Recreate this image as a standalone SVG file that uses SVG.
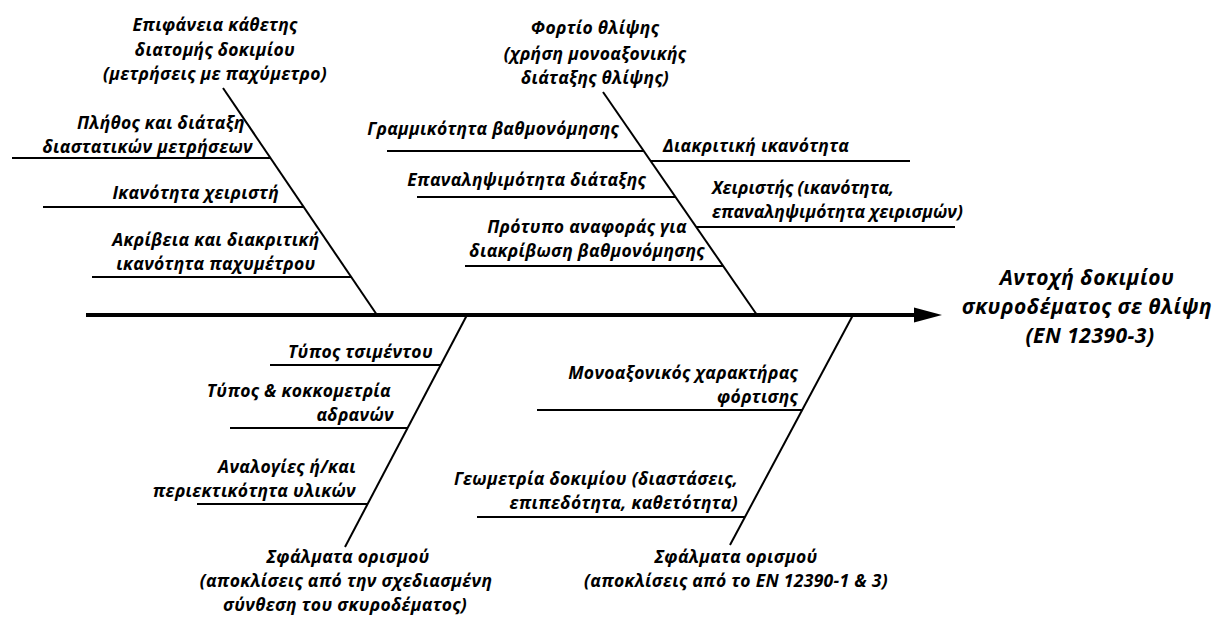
<svg xmlns="http://www.w3.org/2000/svg" width="1228" height="617" viewBox="0 0 1228 617">
<style>
text{font-family:"Open Sans","Noto Sans","DejaVu Sans",sans-serif;font-weight:bold;font-style:italic;font-size:17.5px;letter-spacing:0.3px;fill:#000}
.t{font-size:21px;letter-spacing:0.5px}
.m{text-anchor:middle}
.e{text-anchor:end}
.n{letter-spacing:0}
.bone{stroke:#000;stroke-width:2;fill:none}
.sub{stroke:#000;stroke-width:1.8;fill:none}
.spine{stroke:#000;stroke-width:4;fill:none}
</style>
<rect width="1228" height="617" fill="#fff"/>
<g id="connectors">
<line class="spine" x1="86" y1="315" x2="918" y2="315"/>
<polygon points="914,307.5 942,315 914,322.5" fill="#000"/>
<line class="bone" x1="223" y1="88" x2="377" y2="315"/>
<line class="bone" x1="603" y1="92" x2="757" y2="315"/>
<line class="bone" x1="467" y1="315" x2="345" y2="547"/>
<line class="bone" x1="853" y1="315" x2="730" y2="545"/>
<line class="sub" x1="12" y1="158" x2="270" y2="158"/>
<line class="sub" x1="43" y1="207" x2="304" y2="207"/>
<line class="sub" x1="92" y1="277" x2="351" y2="277"/>
<line class="sub" x1="387" y1="151" x2="644" y2="151"/>
<line class="sub" x1="417" y1="197" x2="675" y2="197"/>
<line class="sub" x1="465" y1="266" x2="723" y2="266"/>
<line class="sub" x1="651" y1="161" x2="910" y2="161"/>
<line class="sub" x1="696" y1="227" x2="955" y2="227"/>
<line class="sub" x1="270" y1="365" x2="441" y2="365"/>
<line class="sub" x1="230" y1="428" x2="408" y2="428"/>
<line class="sub" x1="197" y1="504" x2="368" y2="504"/>
<line class="sub" x1="537" y1="410" x2="802" y2="410"/>
<line class="sub" x1="477" y1="517" x2="745" y2="517"/>
</g>
<g id="effect">
<text class="t m" x="1087" y="285">Αντοχή δοκιμίου</text>
<text class="t m" x="1087" y="314">σκυροδέματος σε θλίψη</text>
<text class="t m" x="1090" y="343">(EN 12390-3)</text>
</g>
<g id="cat-surface">
<text class="m" x="215" y="31">Επιφάνεια κάθετης</text>
<text class="m" x="215" y="56">διατομής δοκιμίου</text>
<text class="m" x="215" y="80">(μετρήσεις με παχύμετρο)</text>
</g>
<g id="cause-plithos">
<text class="e" x="245" y="129">Πλήθος και διάταξη</text>
<text class="e" x="253" y="153">διαστατικών μετρήσεων</text>
</g>
<g id="cause-ikanotita">
<text class="e" x="279" y="199">Ικανότητα χειριστή</text>
</g>
<g id="cause-akriveia">
<text class="m" x="216" y="246">Ακρίβεια και διακριτική</text>
<text class="m" x="216" y="270">ικανότητα παχυμέτρου</text>
</g>
<g id="cat-load">
<text class="m" x="595" y="34">Φορτίο θλίψης</text>
<text class="m" x="595" y="60">(χρήση μονοαξονικής</text>
<text class="m" x="595" y="84">διάταξης θλίψης)</text>
</g>
<g id="cause-grammikotita">
<text class="e" x="619" y="135">Γραμμικότητα βαθμονόμησης</text>
</g>
<g id="cause-epanalipsimotita">
<text class="e" x="646" y="186">Επαναληψιμότητα διάταξης</text>
</g>
<g id="cause-protypo">
<text class="m" x="587" y="233">Πρότυπο αναφοράς για</text>
<text class="m" x="587" y="257">διακρίβωση βαθμονόμησης</text>
</g>
<g id="cause-diakritiki">
<text x="663" y="152">Διακριτική ικανότητα</text>
</g>
<g id="cause-xeiristis">
<text class="n" x="712" y="194">Χειριστής (ικανότητα,</text>
<text class="n" x="712" y="218">επαναληψιμότητα χειρισμών)</text>
</g>
<g id="cat-errors-mix">
<text class="m" x="348" y="563">Σφάλματα ορισμού</text>
<text class="m" x="346" y="587">(αποκλίσεις από την σχεδιασμένη</text>
<text class="m" x="345" y="611">σύνθεση του σκυροδέματος)</text>
</g>
<g id="cause-tsimento">
<text class="e" x="433" y="358">Τύπος τσιμέντου</text>
</g>
<g id="cause-adrana">
<text class="e" x="391" y="397">Τύπος &amp; κοκκομετρία</text>
<text class="e" x="394" y="421">αδρανών</text>
</g>
<g id="cause-analogies">
<text class="e" x="356" y="473">Αναλογίες ή/και</text>
<text class="e" x="356" y="497">περιεκτικότητα υλικών</text>
</g>
<g id="cat-errors-en">
<text class="m" x="736" y="563">Σφάλματα ορισμού</text>
<text class="m" x="736" y="587">(αποκλίσεις από το EN 12390-1 &amp; 3)</text>
</g>
<g id="cause-monoaxonikos">
<text class="e" x="798" y="379">Μονοαξονικός χαρακτήρας</text>
<text class="e" x="798" y="403">φόρτισης</text>
</g>
<g id="cause-geometria">
<text class="e" x="738" y="485">Γεωμετρία δοκιμίου (διαστάσεις,</text>
<text class="e" x="738" y="509">επιπεδότητα, καθετότητα)</text>
</g>
</svg>
